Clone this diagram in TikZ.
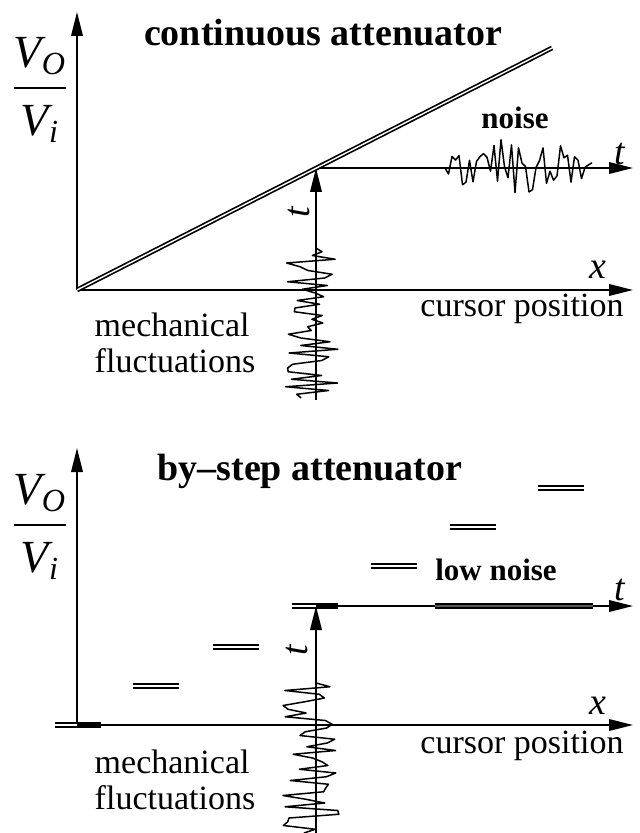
\documentclass[tikz,border=0pt]{standalone}
\usepackage{amsmath}
\usepackage{fontspec}
\setmainfont{Liberation Serif}
\usetikzlibrary{arrows.meta,positioning}
\tikzset{
  axisline/.style={line width=0.85pt,-{Triangle[length=12pt,width=5.8pt]}},
  rampline/.style={line width=0.85pt,double=white,double distance=0.7pt},
  stepbar/.style={line width=0.9pt,double=white,double distance=0.9pt},
  stepfull/.style={line width=2.7pt},
  wiggle/.style={line width=0.75pt,line join=round},
  titlelabel/.style={font=\fontsize{19}{22}\selectfont\bfseries},
  notelabel/.style={font=\fontsize{15.5}{18}\selectfont\bfseries},
  desclabel/.style={font=\fontsize{17}{18}\selectfont,align=left},
  varlabel/.style={font=\fontsize{19}{22}\selectfont\itshape},
  ratiolabel/.style={font=\fontsize{23}{26}\selectfont,inner sep=1pt}
}
\newcommand{\voltratio}{$\dfrac{\textit{V}\/\textsubscript{\textit{O}}\rule[-5pt]{0pt}{5pt}}{\rule{0pt}{20pt}\textit{V}\/\textsubscript{\textit{i}}}$}
\begin{document}
\begin{tikzpicture}[x=0.5pt,y=-0.5pt]
\useasboundingbox (0,0) rectangle (639,833);
\pgfmathsetseed{4217}

% --- continuous attenuator ---
\coordinate (o1) at (77,290);
\coordinate (y1) at (77,12);
\coordinate (x1) at (633,290);
\coordinate (r1) at (552,48);
\coordinate (m1) at (316,168);
\coordinate (t1) at (633,168);
\coordinate (b1) at (316,400);

\draw[axisline] (o1) -- (y1);
\draw[axisline] (o1) -- (x1);
\draw[axisline] (m1) -- (t1);
\draw[axisline] (b1) -- (m1);
\draw[rampline] (o1) -- (r1);

% noise along t
\coordinate (n1) at (445,168);
\draw[wiggle] (n1) \foreach \i in {1,...,42}{
  -- ({445+3.5*\i},{168+(8+26*sin(4.3*\i))*rand}) };
% mechanical fluctuations along t
\coordinate (f1) at (316,248);
\draw[wiggle] (f1) \foreach \i in {1,...,40}{
  -- ({310+29*rand},{248+3.75*\i}) };

\node[titlelabel] (cont) at (323,33) {continuous attenuator};
\node[notelabel] (noise) at (515,118) {noise};
\node[varlabel] (tlab1) at (620,154) {t};
\node[varlabel,rotate=90] (tlab1v) at (299,212) {t};
\node[varlabel] (xlab1) at (598,270) {x};
\node[desclabel] (curs1) at (522,309) {cursor position};
\node[desclabel] (mech1) at (175,343) {mechanical\\fluctuations};
\node[ratiolabel] (ratio1) at (40,90) {\voltratio};

% --- by-step attenuator ---
\coordinate (o2) at (77,725);
\coordinate (y2) at (77,448);
\coordinate (x2) at (633,725);
\coordinate (m2) at (316,606);
\coordinate (t2) at (633,606);
\coordinate (b2) at (316,833);

\draw[axisline] (o2) -- (y2);
\draw[axisline] (55,725) -- (x2);
\draw[axisline] (m2) -- (t2);
\draw[axisline] (b2) -- (m2);

\foreach \sx/\sy in {55/725,133/686,213/647,292/606,371/566,450/527,538/488}
  \draw[stepbar] (\sx,\sy) -- ++(46,0);
\draw[stepfull] (77,725) -- (101,725);
\draw[stepfull] (316,606) -- (338,606);
\draw[stepbar,double=black!65] (435,606) -- (593,606);

% mechanical fluctuations along t
\coordinate (f2) at (316,683);
\draw[wiggle] (f2) \foreach \i in {1,...,40}{
  -- ({310+29*rand},{683+3.75*\i}) };

\node[titlelabel] (step) at (310,471) {by--step attenuator};
\node[notelabel] (lownoise) at (496,570) {low noise};
\node[varlabel] (tlab2) at (620,590) {t};
\node[varlabel,rotate=90] (tlab2v) at (297,650) {t};
\node[varlabel] (xlab2) at (598,706) {x};
\node[desclabel] (curs2) at (522,746) {cursor position};
\node[desclabel] (mech2) at (175,780) {mechanical\\fluctuations};
\node[ratiolabel] (ratio2) at (40,527) {\voltratio};
\end{tikzpicture}
\end{document}
